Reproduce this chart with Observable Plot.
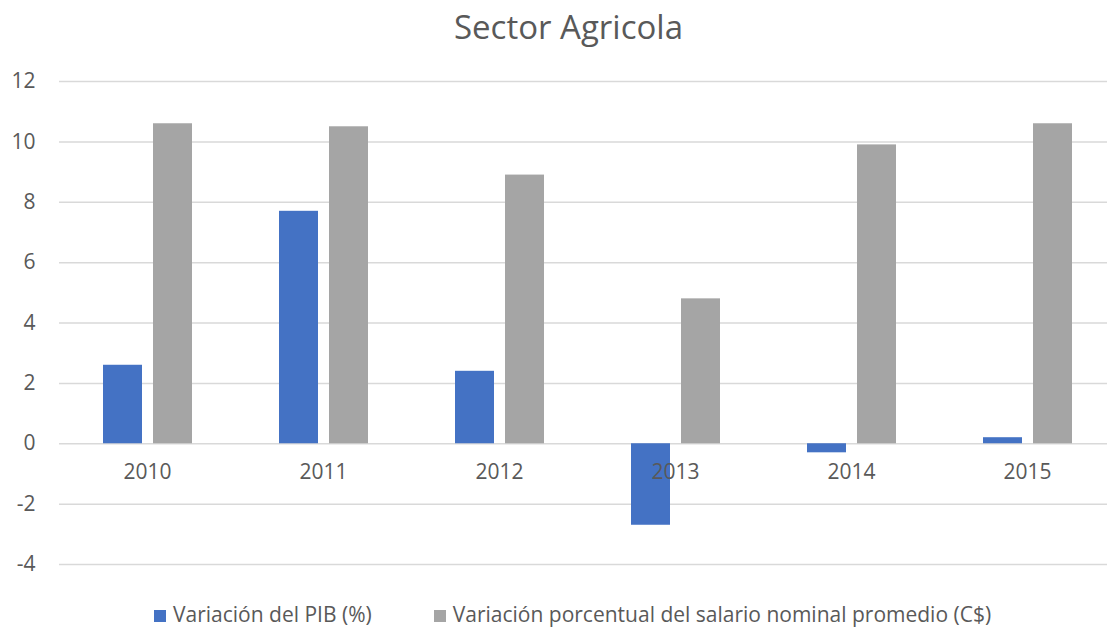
<!DOCTYPE html>
<html>
<head>
<meta charset="utf-8">
<script src="https://cdn.jsdelivr.net/npm/d3@7"></script>
<script src="https://cdn.jsdelivr.net/npm/@observablehq/plot@0.6"></script>
<style>
  html, body { margin: 0; padding: 0; background: #fff; overflow: hidden; width: 1107px; height: 627px; }
  #title { position: absolute; left: 30px; top: 0; width: 1077px; height: 54px; line-height: 54px; text-align: center;
           font-family: "Open Sans", sans-serif; font-size: 33px; color: #595959; white-space: nowrap; }
  #chart { position: absolute; left: 0; top: 60px; width: 1116px; }
  #chart svg { max-width: none !important; }
  #legend { position: absolute; left: 154px; top: 596px; height: 32px; line-height: 32px;
            font-family: "Open Sans", sans-serif; font-size: 21px; color: #595959; white-space: nowrap; }
  .item { display: inline-flex; align-items: center; }
  .item + .item { margin-left: 62px; }
  .sw { display: inline-block; width: 12px; height: 12px; margin-right: 7px; position: relative; top: 2px; }
</style>
</head>
<body>
<div id="title">Sector Agricola</div>
<div id="chart"></div>
<div id="legend"></div>
<script>
const years = ["2010", "2011", "2012", "2013", "2014", "2015"];
const pib = [2.6, 7.7, 2.4, -2.7, -0.3, 0.2];
const salario = [10.6, 10.5, 8.9, 4.8, 9.9, 10.6];
const seriesNames = ["Variación del PIB (%)", "Variación porcentual del salario nominal promedio (C$)"];
const colors = ["#4472C4", "#A5A5A5"];
const yTicks = [-4, -2, 0, 2, 4, 6, 8, 10, 12];

const rows = years.flatMap((yr, i) => [
  {year: yr, series: seriesNames[0], value: pib[i]},
  {year: yr, series: seriesNames[1], value: salario[i]}
]);

const font = '"Open Sans", sans-serif';
const chart = Plot.plot({
  width: 1116,
  height: 530,
  marginLeft: 57,
  marginRight: 0,
  marginTop: 21,
  marginBottom: 26,
  style: {fontFamily: font, fontSize: "21px", color: "#595959", background: "transparent", maxWidth: "none"},
  fx: {domain: years, padding: 0, axis: null, label: null},
  x: {domain: seriesNames, paddingInner: 0.223, paddingOuter: 0.856, axis: null, label: null},
  y: {domain: [-4, 12], axis: null, label: null},
  color: {domain: seriesNames, range: colors},
  marks: [
    Plot.gridY(yTicks, {stroke: "#d9d9d9", strokeOpacity: 1, strokeWidth: 1.5}),
    Plot.axisY(yTicks, {tickSize: 0, tickPadding: 24, tickFormat: d => String(d), fill: "#595959", fontSize: 21, label: null}),
    Plot.barY(rows, {fx: "year", x: "series", y: "value", fill: "series"}),
    Plot.text(years, {fx: d => d, y: () => 0, text: d => d, dy: 29, fill: "#595959", fontSize: 21})
  ]
});
chart.style.maxWidth = "none";
document.getElementById("chart").appendChild(chart);

const legend = document.getElementById("legend");
seriesNames.forEach((name, i) => {
  const item = document.createElement("span");
  item.className = "item";
  const sw = document.createElement("span");
  sw.className = "sw";
  sw.style.background = colors[i];
  item.appendChild(sw);
  item.appendChild(document.createTextNode(name));
  legend.appendChild(item);
});
</script>
</body>
</html>
